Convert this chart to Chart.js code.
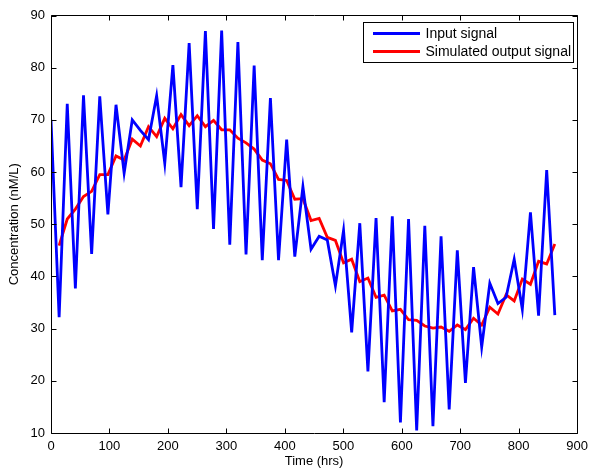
<!DOCTYPE html>
<html>
<head>
<meta charset="utf-8">
<script src="https://cdn.jsdelivr.net/npm/chart.js@4.4.1/dist/chart.umd.min.js"></script>
<style>
html,body{margin:0;padding:0;background:#fff;}
canvas{display:block;}
</style>
</head>
<body>
<canvas id="c" width="594" height="469"></canvas>
<script>
// ---- data ----
const timeHrs = [0, 13.9, 27.8, 41.7, 55.6, 69.5, 83.4, 97.3, 111.2, 125.1,
  139.0, 152.9, 166.8, 180.7, 194.6, 208.5, 222.4, 236.3, 250.2, 264.1,
  278.0, 291.9, 305.8, 319.7, 333.6, 347.5, 361.4, 375.3, 389.2, 403.1,
  417.0, 430.9, 444.8, 458.7, 472.6, 486.5, 500.4, 514.3, 528.2, 542.1,
  556.0, 569.9, 583.8, 597.7, 611.6, 625.5, 639.4, 653.3, 667.2, 681.1,
  695.0, 708.9, 722.8, 736.7, 750.6, 764.5, 778.4, 792.3, 806.2, 820.1,
  834.0, 847.9, 861.8];
const inputSignal = [70.0, 32.2, 73.1, 37.7, 74.7, 44.3, 74.5, 51.9, 72.9, 59.8,
  70.0, 68.0, 66.2, 74.6, 61.7, 80.5, 57.1, 84.7, 52.9, 87.0,
  49.1, 87.1, 46.1, 84.9, 44.2, 80.4, 43.1, 74.2, 43.1, 66.2,
  43.8, 57.2, 45.2, 47.7, 47.0, 38.2, 48.8, 29.3, 50.2, 21.8,
  51.2, 15.9, 51.5, 12.0, 51.0, 10.5, 49.7, 11.3, 47.7, 14.5,
  45.0, 19.6, 41.8, 26.5, 38.7, 34.8, 36.0, 43.3, 33.7, 52.3,
  32.5, 60.4, 32.6];
const outputSignal = [null, 45.9, 51.0, 52.9, 55.3, 56.3, 59.5, 59.5, 63.1, 62.3,
  66.3, 65.0, 68.7, 66.8, 70.3, 68.3, 71.0, 68.9, 70.8, 68.7,
  69.9, 68.1, 68.1, 66.5, 65.6, 64.4, 62.3, 61.6, 58.6, 58.4,
  54.8, 54.9, 50.7, 51.1, 47.5, 46.9, 42.6, 43.3, 39.0, 39.7,
  36.0, 36.4, 33.4, 33.7, 31.7, 31.6, 30.5, 30.1, 30.3, 29.5,
  30.7, 29.8, 32.0, 30.7, 34.1, 32.8, 36.5, 35.3, 39.5, 38.5,
  42.9, 42.4, 46.2];
const xTicks = [0, 100, 200, 300, 400, 500, 600, 700, 800, 900];
const yTicks = [10, 20, 30, 40, 50, 60, 70, 80, 90];
const seriesLabels = ['Input signal', 'Simulated output signal'];
const xTitle = 'Time (hrs)';
const yTitle = 'Concentration (nM/L)';

// ---- build datasets ----
function pairs(xs, ys) {
  const out = [];
  for (let i = 0; i < xs.length; i++) if (ys[i] !== null && ys[i] !== undefined) out.push({x: xs[i], y: ys[i]});
  return out;
}

const FONT = "'Liberation Sans', Arial, Helvetica, sans-serif";
Chart.defaults.color = '#000';
Chart.defaults.font.family = FONT;

const framePlugin = {
  id: 'frame',
  afterDraw(chart) {
    const {ctx, chartArea: a, scales} = chart;
    const xs = scales.x, ys = scales.y;
    const L = Math.floor(a.left) + 0.5, R = Math.floor(a.right) + 0.5;
    const T = Math.floor(a.top) + 0.5, B = Math.floor(a.bottom) + 0.5;
    const tl = 5;
    ctx.save();
    ctx.strokeStyle = '#000';
    ctx.lineWidth = 1;
    ctx.beginPath();
    ctx.rect(L, T, R - L, B - T);
    // inward ticks
    xTicks.forEach(v => {
      const p = Math.round(xs.getPixelForValue(v)) + 0.5;
      ctx.moveTo(p, B); ctx.lineTo(p, B - tl);
      ctx.moveTo(p, T); ctx.lineTo(p, T + tl);
    });
    yTicks.forEach(v => {
      const p = Math.round(ys.getPixelForValue(v)) + 0.5;
      ctx.moveTo(L, p); ctx.lineTo(L + tl, p);
      ctx.moveTo(R, p); ctx.lineTo(R - tl, p);
    });
    ctx.stroke();

    // legend box (inside axes, top right)
    const bx = 363.5, by = 22.5, bw = 210, bh = 40;
    ctx.fillStyle = '#fff';
    ctx.fillRect(bx, by, bw, bh);
    ctx.strokeRect(bx, by, bw, bh);
    const rowsY = [33.5, 51.5];
    chart.data.datasets.forEach((ds, i) => {
      ctx.strokeStyle = ds.borderColor;
      ctx.lineWidth = 3;
      ctx.beginPath();
      ctx.moveTo(373, rowsY[i]); ctx.lineTo(420, rowsY[i]);
      ctx.stroke();
      ctx.fillStyle = '#000';
      ctx.font = '14px ' + FONT;
      ctx.textBaseline = 'middle';
      ctx.textAlign = 'left';
      ctx.fillText(ds.label, 425.5, rowsY[i] + 0.5);
    });
    ctx.restore();
  }
};

new Chart(document.getElementById('c'), {
  type: 'line',
  data: {
    datasets: [
      {label: seriesLabels[0], data: pairs(timeHrs, inputSignal), borderColor: '#0000ff', borderWidth: 2.8, pointRadius: 0, tension: 0, fill: false},
      {label: seriesLabels[1], data: pairs(timeHrs, outputSignal), borderColor: '#ff0000', borderWidth: 2.8, pointRadius: 0, tension: 0, fill: false}
    ]
  },
  options: {
    responsive: false,
    animation: false,
    devicePixelRatio: 1,
    layout: {padding: {left: 0, top: 15.5, right: 13.5, bottom: 0}},
    plugins: {legend: {display: false}, tooltip: {enabled: false}},
    scales: {
      x: {
        type: 'linear', min: 0, max: 900,
        grid: {display: false, drawTicks: false},
        border: {display: false},
        afterBuildTicks: s => { s.ticks = xTicks.map(v => ({value: v})); },
        afterFit: s => { s.height = 36; },
        ticks: {padding: 6, font: {size: 13, family: FONT}, color: '#000', maxRotation: 0, autoSkip: false},
        title: {display: true, text: xTitle, font: {size: 13, family: FONT}, color: '#000', padding: {top: 0, bottom: 0}}
      },
      y: {
        type: 'linear', min: 10, max: 90,
        grid: {display: false, drawTicks: false},
        border: {display: false},
        afterBuildTicks: s => { s.ticks = yTicks.map(v => ({value: v})); },
        afterFit: s => { s.width = 51; },
        ticks: {padding: 6, font: {size: 13, family: FONT}, color: '#000', autoSkip: false},
        title: {display: true, text: yTitle, font: {size: 13, family: FONT}, color: '#000', padding: {top: 7, bottom: 0}}
      }
    }
  },
  plugins: [framePlugin]
});
</script>
</body>
</html>
